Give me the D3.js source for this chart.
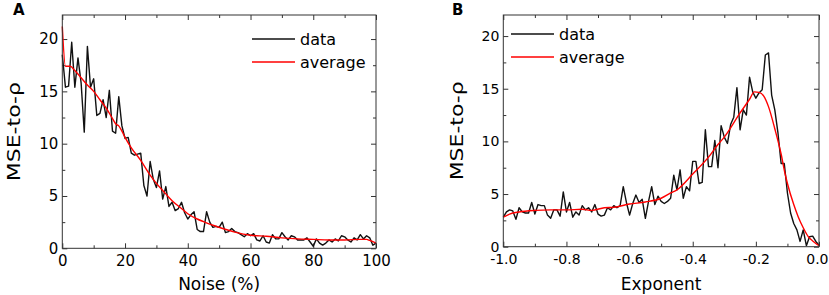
<!DOCTYPE html>
<html>
<head>
<meta charset="utf-8">
<script src="https://cdn.jsdelivr.net/npm/d3@7"></script>
<style>
  body { margin: 0; background: #fff; }
  svg text { font-family: "DejaVu Sans", sans-serif; fill: #000; }
</style>
</head>
<body>
<svg id="chart" width="829" height="295"></svg>
<script>
// Panel A: noise (%) vs MSE-to-rho
const noiseX = d3.range(0, 101); // 0..100 %
const noiseData = [
  18.5, 15.4, 15.5, 19.7, 15.4, 18.2, 15.8, 11.1, 19.3, 15.4,
  16.2, 12.7, 12.9, 14.2, 12.5, 15.1, 11.2, 11.0, 14.5, 11.7,
  10.5, 10.6, 9.1, 8.9, 9.0, 9.1, 6.0, 5.0, 8.3, 6.6,
  5.8, 7.4, 4.7, 5.9, 4.0, 4.4, 3.6, 3.8, 4.4, 3.4,
  2.8, 3.2, 3.5, 1.8, 1.6, 1.6, 3.5, 2.5, 2.0, 2.1,
  2.0, 2.5, 1.5, 1.6, 1.9, 1.6, 1.5, 1.3, 1.1, 1.4,
  1.2, 1.4, 0.8, 0.7, 1.2, 0.6, 0.5, 1.3, 0.9, 0.9,
  1.5, 1.1, 0.8, 1.2, 1.1, 0.8, 0.8, 0.8, 1.0, 0.6,
  0.2, 0.9, 0.5, 0.3, 0.5, 0.8, 0.6, 0.9, 0.7, 1.2,
  1.1, 0.8, 0.6, 1.0, 0.8, 1.3, 0.9, 1.2, 1.0, 0.3,
  0.5
];
const noiseAvgX = [0, 1, 2.5, 4, 6, 8, 10, 12, 14, 16, 17, 18, 19, 20, 22, 25, 28, 30, 33, 35, 38, 40, 43, 45, 48, 50, 55, 60, 65, 70, 75, 80, 85, 90, 95, 97, 98, 100];
const noiseAvg  = [21.2, 17.4, 17.4, 17.0, 16.3, 15.6, 15.0, 14.2, 13.4, 12.4, 11.9, 11.7, 11.2, 10.6, 9.6, 8.4, 7.0, 6.2, 5.2, 4.55, 3.8, 3.3, 2.8, 2.55, 2.2, 2.0, 1.55, 1.25, 1.15, 1.0, 0.9, 0.85, 0.8, 0.8, 0.85, 0.85, 0.75, 0.5];

// Panel B: exponent vs MSE-to-rho
const expX = d3.range(0, 101).map(i => -1 + i / 100);
const expData = [
  2.8, 3.3, 3.5, 3.4, 2.6, 3.7, 3.3, 3.2, 3.2, 4.2,
  3.1, 4.0, 3.9, 3.9, 3.0, 2.7, 3.5, 3.5, 2.9, 5.2,
  3.3, 4.2, 2.8, 3.3, 3.0, 3.9, 3.5, 3.7, 3.3, 4.0,
  3.1, 2.9, 3.0, 3.7, 3.5, 3.9, 3.7, 3.9, 5.7, 4.2,
  3.0, 4.1, 4.9, 4.2, 4.5, 2.7, 4.3, 5.7, 4.0, 4.8,
  4.3, 4.1, 4.3, 4.6, 6.8, 5.4, 7.3, 4.6, 5.7, 5.3,
  8.1, 8.1, 6.0, 6.1, 11.1, 7.6, 7.6, 10.1, 7.5, 11.5,
  10.4, 9.8, 11.6, 12.3, 15.1, 11.1, 13.0, 12.5, 16.1, 14.7,
  14.1, 14.6, 14.9, 18.2, 18.4, 14.4, 13.0, 10.8, 7.9, 7.9,
  5.1, 3.2, 2.2, 1.6, 0.5, 1.6, 0.1, 0.95, 1.0, 0.5,
  0.15
];
const expAvgX = [-1, -0.98, -0.95, -0.9, -0.85, -0.8, -0.75, -0.72, -0.68, -0.65, -0.6, -0.55, -0.5, -0.47, -0.45, -0.4, -0.35, -0.32, -0.3, -0.25, -0.22, -0.205, -0.19, -0.175, -0.16, -0.14, -0.12, -0.108, -0.1, -0.08, -0.066, -0.05, -0.034, -0.02, 0];
const expAvg  = [2.8, 3.1, 3.3, 3.45, 3.5, 3.5, 3.55, 3.45, 3.7, 3.75, 4.05, 4.25, 4.6, 5.1, 5.4, 6.9, 8.5, 9.7, 10.4, 12.7, 14.0, 14.7, 14.65, 14.3, 13.3, 11.2, 8.8, 7.0, 6.0, 4.0, 2.85, 1.8, 0.95, 0.55, 0.1];

const yMajor = [0, 5, 10, 15, 20];
const yMinor = [2.5, 7.5, 12.5, 17.5];
const noiseMajor = [0, 20, 40, 60, 80, 100];
const noiseMinor = [10, 30, 50, 70, 90];
const expMajor = [-1.0, -0.8, -0.6, -0.4, -0.2, 0.0];
const expMinor = [-0.9, -0.7, -0.5, -0.3, -0.1];

const svg = d3.select("#chart");

function drawPanel(p) {
  const x = d3.scaleLinear().domain(p.xDomain).range([p.left, p.right]);
  const y = d3.scaleLinear().domain(p.yDomain).range([p.bottom, p.top]);
  const g = svg.append("g");

  // ticks on all four sides, pointing inward
  const axes = [
    [d3.axisBottom(x).tickValues(p.xMajor).tickSize(-5).tickPadding(6).tickFormat(p.xFmt), `translate(0,${p.bottom})`, true],
    [d3.axisBottom(x).tickValues(p.xMinor).tickSize(-3).tickFormat(""), `translate(0,${p.bottom})`],
    [d3.axisTop(x).tickValues(p.xMajor).tickSize(-5).tickFormat(""), `translate(0,${p.top})`],
    [d3.axisTop(x).tickValues(p.xMinor).tickSize(-3).tickFormat(""), `translate(0,${p.top})`],
    [d3.axisLeft(y).tickValues(yMajor).tickSize(-5).tickPadding(4), `translate(${p.left},0)`],
    [d3.axisLeft(y).tickValues(yMinor).tickSize(-3).tickFormat(""), `translate(${p.left},0)`],
    [d3.axisRight(y).tickValues(yMajor).tickSize(-5).tickFormat(""), `translate(${p.right},0)`],
    [d3.axisRight(y).tickValues(yMinor).tickSize(-3).tickFormat(""), `translate(${p.right},0)`]
  ];
  axes.forEach(([ax, tr, isX]) => {
    const a = g.append("g").attr("transform", tr).call(ax);
    a.select(".domain").remove();
    a.selectAll("line").attr("stroke", "#333");
    a.selectAll("text").style("font-size", p.tickFont).style("font-family", "DejaVu Sans");
    if (isX) {
      a.selectAll("text").attr("y", 7.5);
      // last x label sits on the picture's right edge: keep it inside
      if (p.clampLast) {
        a.selectAll(".tick text").filter(d => d === p.xDomain[1])
          .attr("text-anchor", "end").attr("x", 828 - p.right);
      }
    }
  });

  const line = d3.line().x(d => x(d[0])).y(d => y(d[1]));

  g.append("path")
    .datum(p.xs.map((v, i) => [v, p.data[i]]))
    .attr("fill", "none")
    .attr("stroke", "#111")
    .attr("stroke-width", 1.4)
    .attr("stroke-linejoin", "round")
    .attr("d", line);

  g.append("path")
    .datum(p.avgX.map((v, i) => [v, p.avg[i]]))
    .attr("fill", "none")
    .attr("stroke", "#ff0000")
    .attr("stroke-width", 1.4)
    .attr("d", line.curve(d3.curveMonotoneX));

  // frame
  g.append("rect")
    .attr("x", p.left).attr("y", p.top)
    .attr("width", p.right - p.left).attr("height", p.bottom - p.top)
    .attr("fill", "none").attr("stroke", "#333").attr("stroke-width", 1);

  // legend
  const lg = g.append("g").attr("transform", `translate(${p.legX},${p.legY})`);
  [["data", "#111"], ["average", "#ff0000"]].forEach(([name, c], i) => {
    lg.append("line")
      .attr("x1", 0).attr("x2", 43)
      .attr("y1", i * 23).attr("y2", i * 23)
      .attr("stroke", c).attr("stroke-width", 1.4);
    lg.append("text")
      .attr("x", 48).attr("y", i * 23)
      .attr("dy", "0.35em")
      .style("font-size", "16px")
      .text(name);
  });

  // titles
  g.append("text")
    .attr("x", (p.left + p.right) / 2).attr("y", 290)
    .attr("text-anchor", "middle")
    .style("font-size", "17px")
    .text(p.xTitle);

  g.append("text")
    .attr("transform", `translate(${p.yTitleX},${(p.top + p.bottom) / 2}) rotate(-90)`)
    .attr("text-anchor", "middle")
    .attr("textLength", 99)
    .attr("lengthAdjust", "spacingAndGlyphs")
    .style("font-size", "17px")
    .text("MSE-to-ρ");

  g.append("text")
    .attr("x", p.letterX).attr("y", 15)
    .style("font-size", "15px")
    .style("font-weight", "bold")
    .text(p.letter);
}

drawPanel({
  left: 62.3, right: 376, top: 15, bottom: 248.3,
  xDomain: [0, 100], yDomain: [0, 22.3],
  xMajor: noiseMajor, xMinor: noiseMinor, xFmt: d3.format("d"),
  xs: noiseX, data: noiseData, avgX: noiseAvgX, avg: noiseAvg,
  legX: 252, legY: 39, xTitle: "Noise (%)", yTitleX: 20,
  letter: "A", letterX: 13, tickFont: "15px", clampLast: false
});

drawPanel({
  left: 503.3, right: 819, top: 15, bottom: 246.7,
  xDomain: [-1, 0], yDomain: [0, 22],
  xMajor: expMajor, xMinor: expMinor, xFmt: d => d.toFixed(1),
  xs: expX, data: expData, avgX: expAvgX, avg: expAvg,
  legX: 511, legY: 34, xTitle: "Exponent", yTitleX: 463,
  letter: "B", letterX: 452, tickFont: "14px", clampLast: true
});
</script>
</body>
</html>
